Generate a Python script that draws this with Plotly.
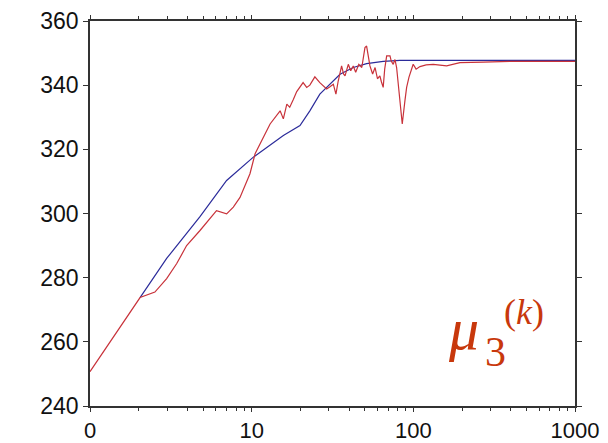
import plotly.graph_objects as go

# x positions on the log axis (label "0" sits at 1)
red_x = [1, 2.04, 2.52, 2.98, 3.44, 3.96, 4.79, 5.79, 6.06, 7.0, 7.7, 8.47, 9.76, 10.5, 11.8, 13.0,
         15.0, 15.7, 16.5, 17.2, 18.1, 19.0, 20.8, 21.9, 22.9, 24.6, 26.4, 29.1, 30.5, 32.0, 33.2,
         34.3, 36.0, 37.0, 37.8, 39.6, 41, 42.5, 44, 46, 48, 50.2, 51.4, 52.5, 53.9, 56, 58, 60,
         62.1, 63.5, 65.1, 66.5, 68.4, 71.7, 73, 75.1, 77, 78.8, 82.6, 85.4, 88.7, 90.9, 94, 99.8,
         104, 109.9, 120, 132.8, 160.7, 194.2, 270.7, 400, 1000]
red_y = [250.7, 273.8, 275.5, 279.7, 284.4, 290, 294.7, 299.8, 300.9, 299.9, 302, 305, 312.4, 318.6,
         323.7, 327.9, 332, 329.5, 334.1, 333.1, 335.5, 338, 340.8, 339.3, 340, 342.6, 340.8, 338.8,
         339.5, 340.3, 337.2, 341.3, 346, 343.5, 342.9, 346.5, 344.5, 346, 344, 346.5, 345.5, 351.7,
         352.2, 349, 346, 343.5, 345.5, 342, 342.9, 341, 339.3, 345, 349.1, 349.1, 347.5, 346.5,
         348, 345.5, 336.2, 327.9, 335.1, 339.3, 342.5, 346.5, 345, 345.8, 346.3, 346.5, 346, 347,
         347.2, 347.4, 347.4]

blue_x = [2.04, 2.98, 4.79, 7.0, 10.2, 12.4, 15.7, 19.9, 22.9, 26.4, 30.5, 35.2, 42.5, 51.4, 65.1,
          82.6, 1000]
blue_y = [273.8, 286.0, 299.0, 310.3, 317.5, 320.6, 324.3, 327.4, 332, 337.2, 340.3, 343.4, 345.5,
          346.7, 347.4, 347.7, 347.7]

x_tickvals = [1, 10, 100, 1000]
x_ticktext = ["0", "10", "100", "1000"]
y_tickvals = [240, 260, 280, 300, 320, 340, 360]

fig = go.Figure()
fig.add_trace(go.Scatter(x=blue_x, y=blue_y, mode="lines",
                         line=dict(color="#2b2b9a", width=1.2), showlegend=False))
fig.add_trace(go.Scatter(x=red_x, y=red_y, mode="lines",
                         line=dict(color="#c8323a", width=1.2), showlegend=False))

axis_common = dict(showgrid=False, zeroline=False, showline=True, linecolor="#333333",
                   linewidth=1.5, ticks="outside", tickcolor="#333333", mirror="ticks",
                   automargin=False)

fig.update_xaxes(type="log", range=[0, 3], tickvals=x_tickvals, ticktext=x_ticktext,
                 ticklen=4, tickwidth=1.2,
                 tickfont=dict(family="Liberation Sans, Arial", size=22, color="#111111"),
                 minor=dict(ticks="outside", ticklen=3, tickcolor="#333333", dtick="D1",
                            showgrid=False),
                 **axis_common)
fig.update_yaxes(range=[240, 360], tickvals=y_tickvals, ticklen=5, tickwidth=1.2,
                 tickfont=dict(family="Liberation Sans, Arial", size=23, color="#111111"),
                 **axis_common)

L, R, T, B = 90, 575, 21, 406
def px(xp):
    return (xp - L) / (R - L)
def py(yp):
    return (B - yp) / (B - T)

ann_color = "#c8380c"
fig.add_annotation(x=px(463), y=py(329), xref="paper", yref="paper", text="<i>μ</i>",
                   showarrow=False, font=dict(family="Liberation Serif", size=60, color=ann_color),
                   xanchor="center", yanchor="middle")
fig.add_annotation(x=px(495), y=py(352), xref="paper", yref="paper", text="3",
                   showarrow=False, font=dict(family="Liberation Serif", size=42, color=ann_color),
                   xanchor="center", yanchor="middle")
fig.add_annotation(x=px(524), y=py(312), xref="paper", yref="paper", text="(<i>k</i>)",
                   showarrow=False, font=dict(family="Liberation Serif", size=36, color=ann_color),
                   xanchor="center", yanchor="middle")

fig.update_layout(width=608, height=443, margin=dict(l=L, r=608 - R, t=T, b=443 - B),
                  paper_bgcolor="white", plot_bgcolor="white")

fig.write_html("out.html")
